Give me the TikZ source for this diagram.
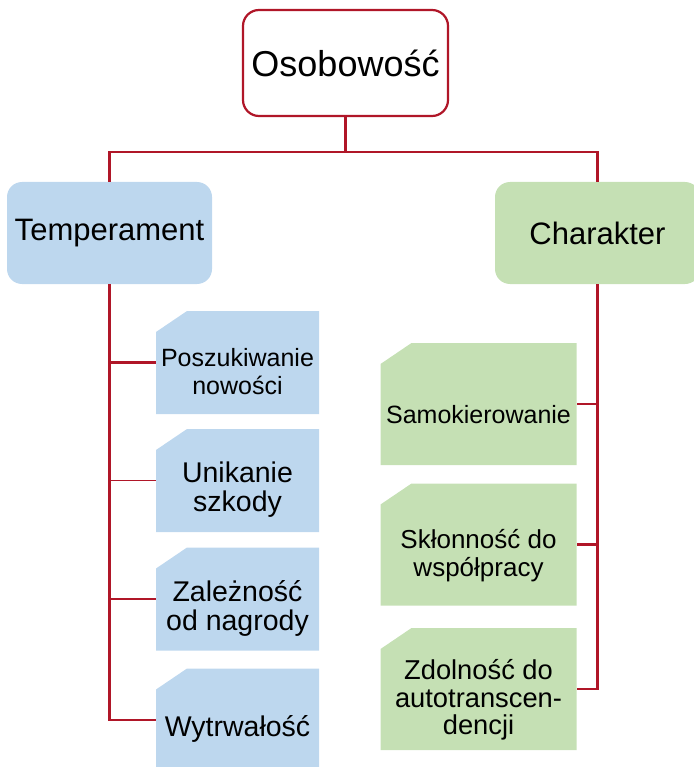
\documentclass[tikz,border=0pt]{standalone}
\usepackage{fontspec}
\setmainfont{Liberation Sans}
\definecolor{linkred}{RGB}{176,22,40}
\definecolor{boxblue}{RGB}{189,215,238}
\definecolor{boxgreen}{RGB}{197,224,180}
\begin{document}
\begin{tikzpicture}[x=1pt,y=-1pt,
  mainbox/.style={draw=linkred, line width=2.2pt, fill=white, rounded corners=16pt,
    minimum width=205pt, minimum height=106pt, font=\fontsize{36}{40}\selectfont},
  catbox/.style={rounded corners=15pt, minimum width=205pt, minimum height=102pt,
    font=\fontsize{31}{34}\selectfont},
  traitbox/.style={rectangle, inner sep=0pt,
    path picture={\fill[#1] (path picture bounding box.south west)
      -- ([yshift=-21pt]path picture bounding box.north west)
      -- ([xshift=31pt]path picture bounding box.north west)
      -- (path picture bounding box.north east)
      -- (path picture bounding box.south east) -- cycle;}},
  traittext/.style={align=center, yshift=-9pt, inner sep=0pt},
  link/.style={draw=linkred, line width=2.2pt}]
\useasboundingbox (0,0) rectangle (693,767);

\node[mainbox] (osob) at (345.5,63) {Osobowość};
\node[catbox, fill=boxblue] (temp) at (109.5,233) {Temperament};
\node[catbox, fill=boxgreen] (char) at (597.5,233) {Charakter};

% temperament
\foreach \name/\y/\fs/\ls/\txt in {t1/362.5/25/27.5/{Poszukiwanie\\nowości},
    t2/480.5/28.5/29/{Unikanie\\szkody},
    t3/599/28.5/29/{Zależność\\od nagrody},
    t4/720/28.5/29/{Wytrwałość}}
  \node[traitbox=boxblue, minimum width=163pt, minimum height=103pt,
    label={[traittext, font=\fontsize{\fs}{\ls}\selectfont]center:{\txt}}]
    (\name) at (237.5,\y) {};

% charakter
\foreach \name/\y/\fs/\ls/\txt in {c1/404/25/27/{Samokierowanie},
    c2/544.5/26/28/{Skłonność do\\współpracy},
    c3/689/27.3/27.5/{Zdolność do\\autotranscen-\\dencji}}
  \node[traitbox=boxgreen, minimum width=196pt, minimum height=122pt,
    label={[traittext, yshift=-2pt, font=\fontsize{\fs}{\ls}\selectfont]center:{\txt}}]
    (\name) at (478.5,\y) {};

\draw[link] (osob.south) -- ++(0,35) -| (temp.north);
\draw[link] (osob.south) -- ++(0,35) -| (char.north);

\draw[link] (temp.south) |- (t4.west);
\foreach \name in {t1,t3}
  \draw[link] (temp.south) |- (\name.west);
\draw[draw=linkred, line width=1pt] (temp.south) |- (t2.west);

\draw[link] (char.south) |- (c3.east);
\foreach \name in {c1,c2}
  \draw[link] (char.south) |- (\name.east);
\end{tikzpicture}
\end{document}
